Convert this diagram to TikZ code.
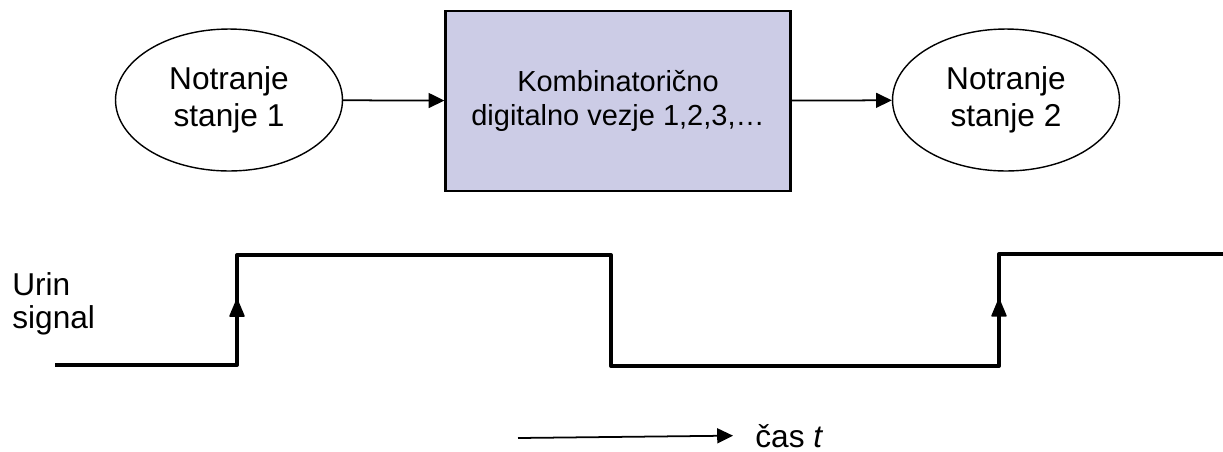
\documentclass[tikz,border=0pt]{standalone}
\usepackage{fontspec}
\setmainfont{Liberation Sans}
\usepackage{xcolor}
\usetikzlibrary{shapes.geometric, arrows.meta, decorations.markings}
\definecolor{boxfill}{RGB}{204,204,230}

\begin{document}
\begin{tikzpicture}[x=0.02cm, y=-0.02cm,
    state/.style={draw, line width=0.8pt, ellipse, minimum width=4.54cm, minimum height=2.84cm,
        inner sep=0pt, align=center, font=\fontsize{18}{21}\selectfont},
    block/.style={draw, line width=1.3pt, fill=boxfill, minimum width=6.9cm, minimum height=3.6cm,
        align=center, font=\fontsize{16.5}{19.8}\selectfont},
    flow/.style={line width=1pt, -{Triangle[length=9pt, width=8.5pt]}},
    clock/.style={line width=2.3pt, line join=round},
    rise/.style={decoration={markings, mark=at position 0.6 with
        {\arrow[line width=1pt]{Triangle[length=11pt, width=9pt, round]}}}, postaction={decorate}}]
        \useasboundingbox (0, 0) rectangle (1223, 451);
        % States
        \node [state] (s1) at (229, 100) {Notranje\\stanje 1};
        \node [block] (komb) at (618, 101) {Kombinatorično\\digitalno vezje 1,2,3,…};
        \node [state] (s2) at (1006, 100) {Notranje\\stanje 2};
        % Arrows
        \draw [flow] (s1) -- (komb);
        \draw [flow] (komb) -- (s2);
        % Clock
        \node [anchor=west, inner sep=0pt, align=left, font=\fontsize{18}{18.5}\selectfont]
            (urin) at (12, 304) {Urin\\signal};
        \draw [clock] (55, 365) -- (237, 365) -- (237, 255) -- (611, 255) -- (611, 366)
            -- (999, 366) -- (999, 254) -- (1223, 254);
        \draw [clock, rise] (237, 365) -- (237, 255);
        \draw [clock, rise] (999, 366) -- (999, 254);
        % Time
        \node [anchor=base west, inner sep=0pt, font=\fontsize{18}{21}\selectfont]
            (cas) at (755, 447) {čas \textit{t}};
        \coordinate (t0) at (518, 438);
        \draw [flow] (t0) -- ([xshift=-0.44cm]cas.west);
    \end{tikzpicture}
\end{document}
